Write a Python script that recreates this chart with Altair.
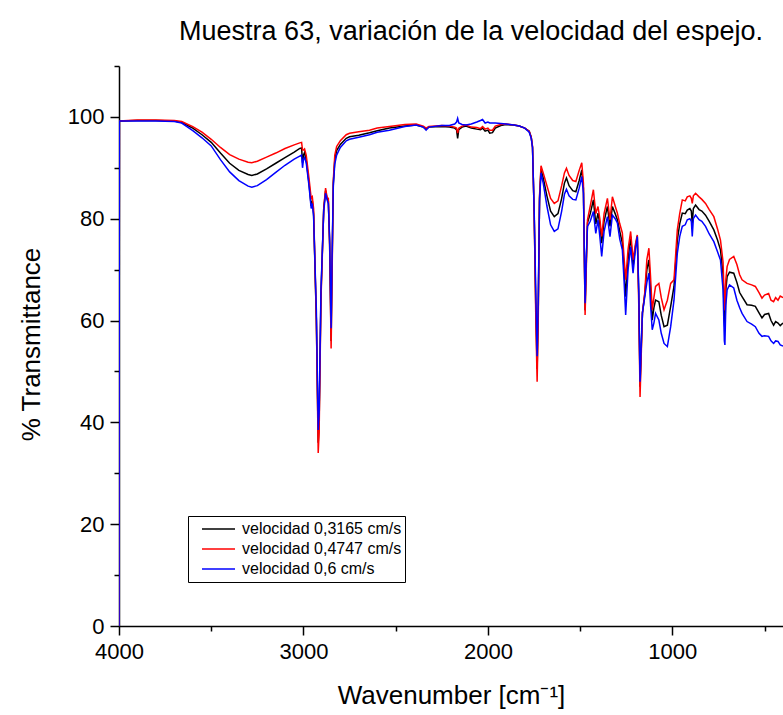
import altair as alt
import pandas as pd

wavenumber = [
    4000, 3998, 3900, 3800, 3700, 3660, 3600, 3550, 3500, 3450, 3400, 3350, 3300, 3280, 3250,
    3200, 3150, 3100, 3050, 3020, 3010, 3005, 3000, 2994, 2985, 2970, 2958, 2952, 2945, 2930,
    2920, 2915, 2905, 2890, 2880, 2872, 2865, 2858, 2850, 2845, 2838, 2830, 2820, 2800, 2768,
    2750, 2700, 2642, 2600, 2534, 2450, 2389, 2350, 2335, 2320, 2250, 2209, 2180, 2170, 2164,
    2158, 2140, 2119, 2090, 2060, 2040, 2029, 2015, 2000, 1990, 1975, 1960, 1930, 1902, 1860,
    1830, 1800, 1776, 1765, 1758, 1749, 1740, 1733, 1727, 1720, 1712, 1700, 1680, 1660, 1640,
    1620, 1600, 1585, 1574, 1560, 1540, 1523, 1505, 1491, 1482, 1473, 1466, 1460, 1445, 1428,
    1415, 1403, 1393, 1383, 1370, 1352, 1338, 1325, 1310, 1298, 1285, 1271, 1262, 1253, 1240,
    1226, 1213, 1200, 1190, 1182, 1175, 1168, 1162, 1150, 1138, 1127, 1118, 1109, 1100, 1091,
    1073, 1060, 1045, 1027, 1009, 991, 973, 960, 946, 930, 919, 905, 897, 892, 886,
    874, 855, 840, 820, 800, 775, 755, 739, 725, 718, 715, 710, 703, 690, 667,
    650, 635, 622, 595, 570, 550, 530, 514, 500, 478, 465, 451, 440, 427, 415,
    400,
]

black_vals = [
    0, 99.2, 99.3, 99.3, 99.2, 98.9, 97.8, 96.5, 95.0, 92.9, 90.9, 89.5, 88.7, 88.5, 88.8,
    89.8, 90.9, 92.0, 93.1, 93.8, 93.9, 91.0, 92.5, 93.0, 91.5, 87.0, 82.5, 83.5, 81.0, 60.0,
    36.0, 40.0, 65.0, 82.0, 85.5, 84.0, 83.5, 75.0, 56.0, 70.0, 87.0, 91.5, 93.4, 94.6, 95.8,
    96.1, 96.4, 96.9, 97.3, 97.8, 98.2, 98.4, 98.0, 97.6, 98.0, 98.1, 98.0, 97.8, 97.5, 95.8,
    97.5, 98.0, 98.2, 97.8, 97.6, 97.5, 97.8, 97.2, 97.4, 96.8, 96.9, 97.8, 98.3, 98.5, 98.4,
    98.2, 97.8, 97.2, 96.0, 94.0, 81.0, 62.0, 50.5, 62.0, 84.0, 89.7, 88.0, 84.5, 81.5, 80.4,
    81.0, 84.0, 87.0, 88.0, 86.5, 85.5, 85.3, 87.5, 89.6, 86.0, 62.0, 72.0, 79.2, 81.0, 83.7,
    79.0, 81.1, 79.0, 75.2, 79.5, 82.4, 78.5, 82.4, 81.0, 79.8, 77.5, 75.2, 70.0, 64.7, 72.0,
    76.5, 70.6, 74.5, 76.6, 65.0, 47.0, 55.0, 61.5, 65.0, 70.0, 71.9, 66.0, 60.1, 62.5, 64.0,
    63.7, 61.0, 58.8, 59.1, 62.8, 66.7, 75.8, 79.0, 81.1, 81.0, 81.7, 82.0, 81.5, 79.0, 82.0,
    82.7, 81.8, 81.5, 80.7, 79.5, 77.8, 75.8, 73.9, 69.0, 60.0, 58.0, 66.0, 68.6, 69.5, 69.3,
    67.5, 65.5, 64.7, 63.1, 63.0, 62.8, 61.5, 60.5, 61.2, 61.4, 60.0, 59.1, 59.8, 59.5, 59.0,
    59.5,
]

red_vals = [
    0, 99.2, 99.4, 99.4, 99.3, 99.1, 98.1, 97.0, 95.6, 94.0, 92.6, 91.7, 91.1, 91.0, 91.3,
    92.1, 92.9, 93.8, 94.5, 94.9, 95.0, 93.5, 93.5, 93.7, 92.5, 88.0, 84.0, 84.3, 82.0, 60.0,
    34.0, 38.0, 64.0, 82.0, 86.0, 84.2, 84.0, 75.0, 54.5, 68.0, 87.6, 92.5, 94.2, 95.3, 96.5,
    96.8, 97.1, 97.4, 97.8, 98.1, 98.5, 98.6, 98.2, 97.8, 98.1, 98.3, 98.2, 98.0, 97.8, 96.8,
    97.8, 98.2, 98.4, 98.0, 97.9, 97.7, 98.1, 97.6, 97.8, 97.4, 97.4, 98.2, 98.5, 98.6, 98.4,
    98.2, 97.8, 97.2, 96.0, 94.2, 81.0, 60.0, 48.0, 60.0, 84.5, 90.4, 89.0, 86.5, 84.0, 83.0,
    83.5, 86.5, 89.0, 89.9, 88.5, 87.5, 87.3, 89.5, 91.0, 87.0, 61.1, 71.0, 79.8, 82.5, 85.7,
    81.0, 82.4, 80.0, 76.5, 81.0, 84.0, 79.8, 84.3, 82.5, 81.1, 79.0, 77.2, 72.5, 68.0, 74.0,
    77.5, 71.9, 75.0, 76.8, 63.0, 45.0, 54.0, 61.5, 65.3, 72.0, 74.2, 68.5, 62.1, 64.5, 66.7,
    67.3, 64.5, 62.1, 64.0, 67.3, 68.0, 77.8, 81.0, 83.7, 83.5, 84.3, 84.5, 84.0, 83.0, 84.5,
    85.0, 84.3, 83.8, 83.0, 81.8, 80.4, 78.0, 75.8, 71.5, 64.0, 62.0, 68.0, 70.6, 72.0, 72.6,
    71.0, 69.0, 68.0, 67.3, 67.0, 66.7, 65.5, 64.4, 65.0, 65.3, 64.0, 63.7, 64.5, 64.0, 64.8,
    64.5,
]

blue_vals = [
    0, 99.2, 99.2, 99.2, 99.1, 98.8, 97.3, 95.9, 94.3, 91.6, 89.2, 87.5, 86.4, 86.2, 86.5,
    87.7, 89.1, 90.5, 91.7, 92.3, 92.5, 90.0, 91.6, 92.0, 91.0, 86.5, 82.0, 83.0, 80.5, 62.0,
    38.5, 42.0, 66.0, 81.5, 85.0, 83.7, 83.0, 76.0, 58.5, 72.0, 86.5, 90.8, 92.5, 94.0, 95.3,
    95.6, 96.0, 96.5, 97.0, 97.4, 98.1, 98.4, 98.0, 97.4, 98.0, 98.3, 98.3, 98.6, 99.0, 99.7,
    98.8, 98.5, 98.4, 98.6, 99.0, 99.3, 99.5, 98.8, 99.0, 98.8, 98.8, 98.8, 98.7, 98.6, 98.4,
    98.2, 97.8, 97.0, 95.8, 94.0, 81.5, 65.0, 53.0, 64.0, 83.5, 89.0, 87.0, 82.5, 78.8, 77.5,
    78.0, 81.5, 84.8, 85.8, 84.5, 83.8, 83.7, 86.0, 88.3, 85.0, 63.4, 73.0, 78.5, 79.5, 81.4,
    77.1, 79.8, 76.5, 72.6, 77.5, 80.4, 76.5, 80.7, 80.0, 79.2, 76.0, 73.9, 68.0, 61.1, 70.0,
    74.5, 69.3, 74.0, 76.5, 66.0, 48.0, 56.0, 61.5, 64.5, 67.5, 69.3, 63.0, 58.2, 59.5, 61.4,
    60.1, 57.5, 55.5, 54.9, 58.8, 64.0, 73.2, 76.5, 78.5, 78.8, 79.8, 80.0, 79.5, 76.5, 80.0,
    80.7, 79.8, 79.5, 78.5, 77.0, 75.5, 73.5, 71.9, 66.0, 56.0, 55.2, 63.0, 66.0, 67.0, 66.4,
    64.0, 62.5, 61.4, 59.8, 59.3, 58.8, 57.5, 56.9, 57.0, 56.9, 56.0, 55.5, 56.0, 55.9, 55.2,
    55.0,
]

series_names = ["velocidad 0,3165 cm/s", "velocidad 0,4747 cm/s", "velocidad 0,6 cm/s"]
series_colors = ["#000000", "#ff0000", "#0000ff"]

x_ticks = [4000, 3500, 3000, 2500, 2000, 1500, 1000, 500]
y_ticks = [0, 10, 20, 30, 40, 50, 60, 70, 80, 90, 100, 110]

rows = []
for name, vals in zip(series_names, [black_vals, red_vals, blue_vals]):
    for w, v in zip(wavenumber, vals):
        rows.append({"wn": w, "T": v, "serie": name})
df = pd.DataFrame(rows)

FONT = "Liberation Sans"

chart = alt.Chart(df).mark_line(strokeWidth=1.5, clip=True).encode(
    x=alt.X(
        "wn:Q",
        scale=alt.Scale(domain=[4000, 400], nice=False, zero=False),
        axis=alt.Axis(
            values=x_ticks,
            format="d",
            labelExpr="datum.value % 1000 === 0 ? datum.label : ''",
            tickSize={"condition": {"test": "datum.value % 1000 === 0", "value": 9}, "value": 5},
            title="Wavenumber [cm⁻¹]",
            titleX=332,
            titleY=77,
            titleBaseline="alphabetic",
            titleAlign="center",
            labelPadding=6,
        ),
    ),
    y=alt.Y(
        "T:Q",
        scale=alt.Scale(domain=[0, 110], nice=False),
        axis=alt.Axis(
            values=y_ticks,
            format="d",
            labelExpr="datum.value % 20 === 0 ? datum.label : ''",
            tickSize={"condition": {"test": "datum.value % 20 === 0", "value": 9}, "value": 5},
            title="% Transmittance",
            titleX=-88,
            titleY=278,
            titleAngle=-90,
            titleBaseline="middle",
            titleAlign="center",
            labelPadding=6,
        ),
    ),
    color=alt.Color(
        "serie:N",
        scale=alt.Scale(domain=series_names, range=series_colors),
        legend=alt.Legend(
            title=None,
            orient="none",
            legendX=69,
            legendY=450,
            direction="vertical",
            symbolType="stroke",
            symbolSize=1089,
            symbolStrokeWidth=1.5,
            symbolOffset=10,
            labelFont=FONT,
            labelFontSize=16,
            labelColor="black",
            labelLimit=0,
            labelOffset=6,
            strokeColor="black",
            fillColor="white",
            padding=3,
            rowPadding=0,
            clipHeight=20,
        ),
    ),
).properties(
    width=664,
    height=560,
    background="white",
    title=alt.TitleParams(
        text="Muestra 63, variación de la velocidad del espejo.",
        font=FONT,
        fontSize=27,
        fontWeight="normal",
        color="black",
        anchor="middle",
        dx=20,
        offset=-12,
        baseline="alphabetic",
    ),
    autosize=alt.AutoSizeParams(type="none"),
    padding={"left": 119, "top": 66, "right": 0, "bottom": 89},
).configure_view(
    stroke=None
).configure_axis(
    grid=False,
    domainColor="black",
    domainWidth=1.5,
    tickColor="black",
    tickWidth=1.5,
    labelFont=FONT,
    labelFontSize=22,
    labelColor="black",
    labelOverlap=False,
    labelFlush=False,
    titleFont=FONT,
    titleFontSize=26,
    titleFontWeight="normal",
    titleColor="black",
)

chart.save("out.html", embed_options={"renderer": "svg", "actions": False})
